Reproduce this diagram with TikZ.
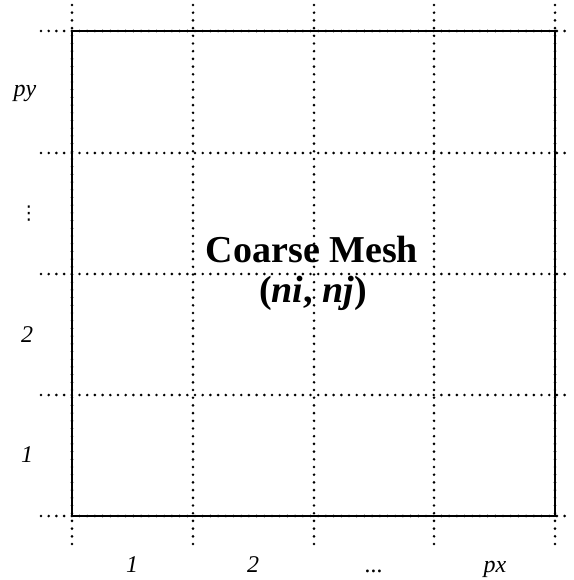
\documentclass[tikz,border=0pt]{standalone}
\usepackage{fontspec}
\setmainfont{Liberation Serif}
\newfontfamily\symfont{DejaVu Sans}
\begin{document}
\begin{tikzpicture}[x=1pt,y=-1pt,
  dotline/.style={line width=2.9pt,line cap=round,dash pattern=on 0pt off 7.7pt},
  frame/.style={line width=2.2pt},
  axlabel/.style={anchor=base,inner sep=0pt,font=\fontsize{24}{28}\selectfont\itshape},
  bigtext/.style={anchor=base,inner sep=0pt,font=\fontsize{38}{40}\selectfont\bfseries}]
\useasboundingbox (0,0) rectangle (573,580);
% grid corner coordinates
\foreach \x/\n in {72/0,193/1,314/2,434/3,555/4}{
  \coordinate (vt\n) at (\x,5);
  \coordinate (vb\n) at (\x,548);
}
\foreach \y/\n in {31/0,153/1,274/2,395/3,516/4}{
  \coordinate (hl\n) at (41,\y);
  \coordinate (hr\n) at (572,\y);
}
\coordinate (c00) at (72,31);
\coordinate (c11) at (555,516);
\draw[frame] (c00) rectangle (c11);
\foreach \n in {0,...,4}{
  \draw[dotline] (vt\n) -- (vb\n);
  \draw[dotline] (hl\n) -- (hr\n);
}
% center text
\node[bigtext] (title) at (312,262) {Coarse Mesh};
\node[bigtext] (dims) at (313,302) {(\textit{ni}, \textit{nj})};
% bottom labels
\node[axlabel] (bx1) at (132,572) {1};
\node[axlabel] (bx2) at (253,572) {2};
\node[axlabel] (bx3) at (374,572) {...};
\node[axlabel] (bx4) at (495,572) {px};
% left labels
\node[axlabel] (ly4) at (25,97) {py};
\node[anchor=center,inner sep=0pt,font=\fontsize{19}{20}\selectfont\symfont] (ly3) at (29,214) {⋮};
\node[axlabel] (ly2) at (27,342) {2};
\node[axlabel] (ly1) at (27,462) {1};
\end{tikzpicture}
\end{document}
